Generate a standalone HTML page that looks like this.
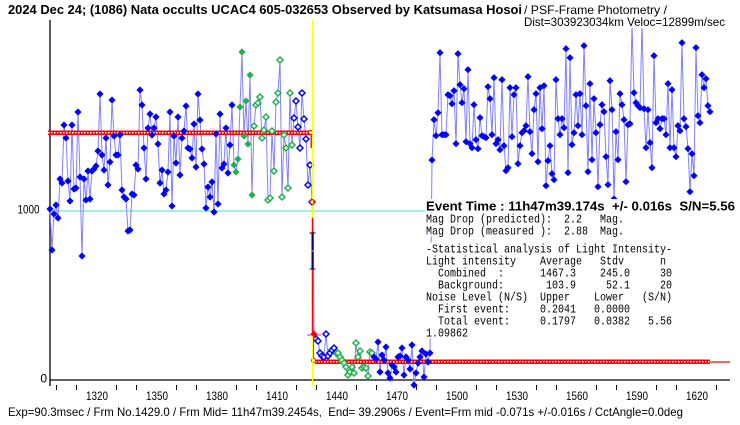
<!DOCTYPE html>
<html><head><meta charset="utf-8"><style>
html,body{margin:0;padding:0;background:#fff;}
svg{display:block;}
text{white-space:pre;}
</style></head><body>
<svg width="740" height="425" viewBox="0 0 740 425" xmlns="http://www.w3.org/2000/svg" xml:space="preserve">
<defs>
<marker id="bf" markerUnits="userSpaceOnUse" markerWidth="10" markerHeight="10" refX="5" refY="5" overflow="visible"><polygon points="5,1.4 8.6,5 5,8.6 1.4,5" fill="#0000ff"/></marker>
<marker id="gf" markerUnits="userSpaceOnUse" markerWidth="10" markerHeight="10" refX="5" refY="5" overflow="visible"><polygon points="5,1.4 8.6,5 5,8.6 1.4,5" fill="#22b04b"/></marker>
<marker id="gh" markerUnits="userSpaceOnUse" markerWidth="10" markerHeight="10" refX="5" refY="5" overflow="visible"><polygon points="5,2 8,5 5,8 2,5" fill="#fff" stroke="#22b04b" stroke-width="1.5"/></marker>
<marker id="bh" markerUnits="userSpaceOnUse" markerWidth="10" markerHeight="10" refX="5" refY="5" overflow="visible"><polygon points="5,2 8,5 5,8 2,5" fill="#fff" stroke="#0000ff" stroke-width="1.5"/></marker>
</defs>

<!-- grid line at 1000 -->
<line x1="50" y1="211" x2="730" y2="211" stroke="#40e0e0" stroke-width="1"/>

<!-- axes -->
<line x1="50" y1="20" x2="50" y2="386" stroke="#000" stroke-width="1.3"/>
<line x1="50" y1="380" x2="730" y2="380" stroke="#000" stroke-width="1.3"/>
<g stroke="#000" stroke-width="1">
<line x1="56.5" y1="385" x2="56.5" y2="390"/><line x1="76.5" y1="385" x2="76.5" y2="390"/>
<line x1="116.5" y1="385" x2="116.5" y2="390"/><line x1="136.5" y1="385" x2="136.5" y2="390"/>
<line x1="176.5" y1="385" x2="176.5" y2="390"/><line x1="196.5" y1="385" x2="196.5" y2="390"/>
<line x1="236.5" y1="385" x2="236.5" y2="390"/><line x1="256.5" y1="385" x2="256.5" y2="390"/>
<line x1="296.5" y1="385" x2="296.5" y2="390"/><line x1="316.5" y1="385" x2="316.5" y2="390"/>
<line x1="356.5" y1="385" x2="356.5" y2="390"/><line x1="376.5" y1="385" x2="376.5" y2="390"/>
<line x1="416.5" y1="385" x2="416.5" y2="390"/><line x1="436.5" y1="385" x2="436.5" y2="390"/>
<line x1="476.5" y1="385" x2="476.5" y2="390"/><line x1="496.5" y1="385" x2="496.5" y2="390"/>
<line x1="536.5" y1="385" x2="536.5" y2="390"/><line x1="556.5" y1="385" x2="556.5" y2="390"/>
<line x1="596.5" y1="385" x2="596.5" y2="390"/><line x1="616.5" y1="385" x2="616.5" y2="390"/>
<line x1="656.5" y1="385" x2="656.5" y2="390"/><line x1="676.5" y1="385" x2="676.5" y2="390"/>
<line x1="716.5" y1="385" x2="716.5" y2="390"/>
</g>
<g font-family="Liberation Sans, sans-serif" font-size="12" fill="#000" text-anchor="middle">
<text x="97" y="400" textLength="22" lengthAdjust="spacingAndGlyphs">1320</text>
<text x="157" y="400" textLength="22" lengthAdjust="spacingAndGlyphs">1350</text>
<text x="217" y="400" textLength="22" lengthAdjust="spacingAndGlyphs">1380</text>
<text x="277" y="400" textLength="22" lengthAdjust="spacingAndGlyphs">1410</text>
<text x="337" y="400" textLength="22" lengthAdjust="spacingAndGlyphs">1440</text>
<text x="397" y="400" textLength="22" lengthAdjust="spacingAndGlyphs">1470</text>
<text x="457" y="400" textLength="22" lengthAdjust="spacingAndGlyphs">1500</text>
<text x="517" y="400" textLength="22" lengthAdjust="spacingAndGlyphs">1530</text>
<text x="577" y="400" textLength="22" lengthAdjust="spacingAndGlyphs">1560</text>
<text x="637" y="400" textLength="22" lengthAdjust="spacingAndGlyphs">1590</text>
<text x="697" y="400" textLength="22" lengthAdjust="spacingAndGlyphs">1620</text>
</g>
<g font-family="Liberation Sans, sans-serif" font-size="12" fill="#000" text-anchor="end">
<text x="39.5" y="213.5" textLength="22" lengthAdjust="spacingAndGlyphs">1000</text>
<text x="47" y="382.5">0</text>
</g>

<!-- connecting line -->
<polyline fill="none" stroke="#8080ff" stroke-width="1" points="50,209 52,250 54,214 56,205 58,218 60,179 62,183 64,125 66,138 68,181 70,201 72,125 74,189 76,188 78,112 80,177 82,256 84,179 86,200 88,171 90,199 92,171 94,169 96,166 98,151 100,94 102,155 104,170 106,138 108,185 110,162 112,100 114,136 116,155 118,155 120,135 122,190 124,197 126,199 128,231 130,230 132,194 134,195 136,165 138,169 140,90 142,105 144,148 146,179 148,128 150,114 152,135 154,128 156,117 158,144 160,183 162,170 164,194 166,190 168,172 170,112 172,206 174,136 176,163 178,117 180,175 182,138 184,131 186,106 188,148 190,149 192,158 194,124 196,167 198,94 200,120 202,149 204,164 206,208 208,187 210,197 212,182 214,212 216,134 218,204 220,114 222,168 224,164 226,128 228,173 230,145 232,105 234,165 236,172 238,159 240,107 242,52 244,136 246,101 248,144 250,75 252,195 254,126 256,105 258,103 260,97 262,138 264,130 266,117 268,200 270,198 272,131 274,171 276,102 278,93 280,60 282,197 284,135 286,148 288,188 290,93 292,145 294,118 296,101 298,127 300,148 302,93 304,119 306,139 308,185 310,165 312,202 313.5,237 313.5,269 314,334 316,339 318,341 320,353 322,356 324,357 326,334 328,356 330,353 332,350 334,348 336,353 338,353 340,357 342,360 344,363 346,367 348,375 350,372 352,367 354,373 356,343 358,357 360,351 362,368 364,367 366,368 368,376 370,352 372,353 374,357 376,359 378,342 380,372 382,355 384,360 386,347 388,373 390,378 392,365 394,367 396,372 398,357 400,356 402,348 404,375 406,357 408,360 410,369 412,345 414,385 416,373 418,363 420,357 422,351 424,377 426,354 428,362 430,353 432,160 434,119.7 436,135.7 438,112.7 440,52.7 442,134.7 444,134.7 446,134.7 448,94.7 450,95.7 452,103.7 454,90.7 456,143.7 458,53.7 460,84.7 462,102.7 464,88.7 466,141.7 468,69.7 470,143.7 472,147.7 474,104.7 476,139.7 478,148.7 480,117.7 482,135.7 484,136.7 486,137.7 488,86.7 490,98.7 492,134.7 494,77.7 496,143.7 498,139.7 500,149.7 502,79.7 504,145.7 506,170.7 508,167.7 510,87.7 512,136.7 514,94.7 516,87.7 518,163.7 520,145.7 522,132.7 524,130.7 526,125.7 528,76.7 530,131.7 532,153.7 534,109.7 536,93.7 538,161.7 540,87.7 542,128.7 544,85.7 546,185.7 548,160.7 550,145.7 552,173.7 554,179.7 556,79.7 558,118.7 560,134.7 562,118.7 564,127.7 566,48.7 568,172.7 570,57.7 572,144.7 574,132.7 576,94.7 578,125.7 580,93.7 582,134.7 584,45.7 586,105.7 588,171.7 590,83.7 592,159.7 594,98.7 596,132.7 598,186.7 600,124.7 602,104.7 604,111.7 606,156.7 608,184.7 610,80.7 612,109.7 614,199 616,131.7 618,159.7 620,93.7 622,104.7 624,119.7 626,181.7 628,124.7 630,123.7 632,24 634,92.7 636,102.7 638,105.7 640,107.7 642,24 644,108.7 646,147.7 648,109.7 650,142.7 652,167.7 654,55.7 656,122.7 658,118.7 660,128.7 662,118.7 664,118.7 666,134.7 668,83.7 670,147.7 672,89.7 674,147.7 676,156.7 678,125.7 680,130.7 682,42.7 684,118.7 686,126.7 688,148.7 690,191.7 692,153.7 694,175.7 696,47.7 698,115.7 700,122.7 702,74.7 704,87.7 706,78.7 708,105.7 710,111.7"/>

<!-- red level bars -->
<rect x="48" y="130.5" width="264" height="4.5" fill="#ff0000"/>
<line x1="48" y1="132.75" x2="312" y2="132.75" stroke="#fff" stroke-width="1.4" stroke-dasharray="1.5 1.5"/>
<line x1="311.5" y1="130" x2="311.5" y2="148" stroke="#ff0000" stroke-width="2"/>
<rect x="315" y="359.5" width="395" height="4.5" fill="#ff0000"/>
<line x1="315" y1="361.75" x2="710" y2="361.75" stroke="#fff" stroke-width="1.4" stroke-dasharray="1.5 1.5"/>
<line x1="710" y1="362" x2="730" y2="362" stroke="#ff0000" stroke-width="1.2"/>
<line x1="313.5" y1="335" x2="313.5" y2="361" stroke="#ff0000" stroke-width="1"/>
<circle cx="310.5" cy="132.5" r="2" fill="#fff" stroke="#ff0000" stroke-width="1"/>
<circle cx="313.5" cy="360.5" r="2" fill="#fff" stroke="#ff0000" stroke-width="1"/>

<!-- markers -->
<polyline fill="none" stroke="none" marker-start="url(#bf)" marker-mid="url(#bf)" marker-end="url(#bf)" points="50,209 52,250 54,214 56,205 58,218 60,179 62,183 64,125 66,138 68,181 70,201 72,125 74,189 76,188 78,112 80,177 82,256 84,179 86,200 88,171 90,199 92,171 94,169 96,166 98,151 100,94 102,155 104,170 106,138 108,185 110,162 112,100 114,136 116,155 118,155 120,135 122,190 124,197 126,199 128,231 130,230 132,194 134,195 136,165 138,169 140,90 142,105 144,148 146,179 148,128 150,114 152,135 154,128 156,117 158,144 160,183 162,170 164,194 166,190 168,172 170,112 172,206 174,136 176,163 178,117 180,175 182,138 184,131 186,106 188,148 190,149 192,158 194,124 196,167 198,94 200,120 202,149 204,164 206,208 208,187 210,197 212,182 214,212 216,134 218,204 220,114 222,168 224,164 226,128 228,173 230,145 232,105"/>
<polyline fill="none" stroke="none" marker-start="url(#gf)" marker-mid="url(#gf)" marker-end="url(#gf)" points="234,165 236,172 238,159 240,107 242,52 244,136 246,101 248,144 250,75 252,195"/>
<polyline fill="none" stroke="none" marker-start="url(#gh)" marker-mid="url(#gh)" marker-end="url(#gh)" points="254,126 256,105 258,103 260,97 262,138 264,130 266,117 268,200 270,198 272,131 274,171 276,102 278,93 280,60 282,197 284,135 286,148 288,188 290,93 292,145 336,353 338,353 340,357 342,360 344,363 346,367 348,375 350,372 352,367 354,373 356,343 358,357 360,351 362,368 364,367 366,368 368,376 370,352 372,353"/>
<polyline fill="none" stroke="none" marker-start="url(#bh)" marker-mid="url(#bh)" marker-end="url(#bh)" points="294,118 296,101 298,127 300,148 302,93 304,119 306,139 308,185 310,165 312,202 316,339 318,341 320,353 322,356 324,357 326,334 328,356 330,353 332,350 334,348"/>
<polyline fill="none" stroke="none" marker-start="url(#bf)" marker-mid="url(#bf)" marker-end="url(#bf)" points="374,357 376,359 378,342 380,372 382,355 384,360 386,347 388,373 390,378 392,365 394,367 396,372 398,357 400,356 402,348 404,375 406,357 408,360 410,369 412,345 414,385 416,373 418,363 420,357 422,351 424,377 426,354 428,362 430,353 432,160 434,119.7 436,135.7 438,112.7 440,52.7 442,134.7 444,134.7 446,134.7 448,94.7 450,95.7 452,103.7 454,90.7 456,143.7 458,53.7 460,84.7 462,102.7 464,88.7 466,141.7 468,69.7 470,143.7 472,147.7 474,104.7 476,139.7 478,148.7 480,117.7 482,135.7 484,136.7 486,137.7 488,86.7 490,98.7 492,134.7 494,77.7 496,143.7 498,139.7 500,149.7 502,79.7 504,145.7 506,170.7 508,167.7 510,87.7 512,136.7 514,94.7 516,87.7 518,163.7 520,145.7 522,132.7 524,130.7 526,125.7 528,76.7 530,131.7 532,153.7 534,109.7 536,93.7 538,161.7 540,87.7 542,128.7 544,85.7 546,185.7 548,160.7 550,145.7 552,173.7 554,179.7 556,79.7 558,118.7 560,134.7 562,118.7 564,127.7 566,48.7 568,172.7 570,57.7 572,144.7 574,132.7 576,94.7 578,125.7 580,93.7 582,134.7 584,45.7 586,105.7 588,171.7 590,83.7 592,159.7 594,98.7 596,132.7 598,186.7 600,124.7 602,104.7 604,111.7 606,156.7 608,184.7 610,80.7 612,109.7 614,199 616,131.7 618,159.7 620,93.7 622,104.7 624,119.7 626,181.7 628,124.7 630,123.7 632,24 634,92.7 636,102.7 638,105.7 640,107.7 642,24 644,108.7 646,147.7 648,109.7 650,142.7 652,167.7 654,55.7 656,122.7 658,118.7 660,128.7 662,118.7 664,118.7 666,134.7 668,83.7 670,147.7 672,89.7 674,147.7 676,156.7 678,125.7 680,130.7 682,42.7 684,118.7 686,126.7 688,148.7 690,191.7 692,153.7 694,175.7 696,47.7 698,115.7 700,122.7 702,74.7 704,87.7 706,78.7 708,105.7 710,111.7"/>

<!-- event line and markers -->
<line x1="312.5" y1="20" x2="312.5" y2="386" stroke="#ffff00" stroke-width="1.3"/>
<line x1="312.5" y1="218" x2="312.5" y2="333" stroke="#ff0000" stroke-width="1.5"/>
<line x1="312.5" y1="233" x2="312.5" y2="269" stroke="#000080" stroke-width="2"/>
<line x1="309.5" y1="233" x2="315.5" y2="233" stroke="#000" stroke-width="1"/>
<line x1="310.5" y1="251" x2="314.5" y2="251" stroke="#e0e000" stroke-width="1"/>
<line x1="309.5" y1="269" x2="315.5" y2="269" stroke="#000080" stroke-width="1"/>
<circle cx="312" cy="202" r="2.6" fill="none" stroke="#ff0000" stroke-width="1"/>
<line x1="307" y1="335" x2="321" y2="335" stroke="#ff00ff" stroke-width="1"/>
<line x1="314" y1="330" x2="314" y2="339" stroke="#ff00ff" stroke-width="1"/>
<polygon points="314,330.5 317.5,334 314,337.5 310.5,334" fill="#ff0000"/>

<!-- title -->
<rect x="522" y="15.5" width="206" height="12.5" fill="#fff"/>
<text x="8" y="14" font-family="Liberation Sans, sans-serif" font-size="13" font-weight="bold" textLength="514" lengthAdjust="spacingAndGlyphs">2024 Dec 24; (1086) Nata occults UCAC4 605-032653 Observed by Katsumasa Hosoi</text>
<text x="524" y="14" font-family="Liberation Sans, sans-serif" font-size="12" textLength="143" lengthAdjust="spacingAndGlyphs">/ PSF-Frame Photometry /</text>
<text x="524" y="26" font-family="Liberation Sans, sans-serif" font-size="12" textLength="201" lengthAdjust="spacingAndGlyphs">Dist=303923034km Veloc=12899m/sec</text>

<!-- stats block -->
<g fill="#fff">
<rect x="425" y="199" width="312" height="13"/>
<rect x="426" y="212.5" width="198" height="12"/>
<rect x="426" y="224.3" width="198" height="12"/>
<rect x="426" y="242.5" width="246" height="12"/>
<rect x="426" y="254.3" width="240" height="12"/>
<rect x="426" y="266.3" width="246" height="12"/>
<rect x="426" y="278.3" width="246" height="12"/>
<rect x="426" y="290.3" width="246" height="12"/>
<rect x="426" y="302.3" width="204" height="12"/>
<rect x="426" y="314.3" width="246" height="12"/>
<rect x="426" y="326.5" width="42" height="12"/>
</g>
<text x="426" y="210.5" font-family="Liberation Sans, sans-serif" font-size="13" font-weight="bold" textLength="309" lengthAdjust="spacingAndGlyphs">Event Time : 11h47m39.174s  +/- 0.016s  S/N=5.56</text>
<g font-family="Liberation Mono, monospace" font-size="12" fill="#000">
<text x="426" y="222.5" textLength="198" lengthAdjust="spacingAndGlyphs">Mag Drop (predicted):  2.2   Mag.</text>
<text x="426" y="234.3" textLength="198" lengthAdjust="spacingAndGlyphs">Mag Drop (measured ):  2.88  Mag.</text>
<text x="426" y="252.5" textLength="246" lengthAdjust="spacingAndGlyphs">-Statistical analysis of Light Intensity-</text>
<text x="426" y="264.3" textLength="240" lengthAdjust="spacingAndGlyphs">Light intensity    Average   Stdv      n</text>
<text x="426" y="276.3" textLength="246" lengthAdjust="spacingAndGlyphs">  Combined  :      1467.3    245.0     30</text>
<text x="426" y="288.3" textLength="246" lengthAdjust="spacingAndGlyphs">  Background:       103.9     52.1     20</text>
<text x="426" y="300.3" textLength="246" lengthAdjust="spacingAndGlyphs">Noise Level (N/S)  Upper    Lower   (S/N)</text>
<text x="426" y="312.3" textLength="204" lengthAdjust="spacingAndGlyphs">  First event:     0.2041   0.0000</text>
<text x="426" y="324.3" textLength="246" lengthAdjust="spacingAndGlyphs">  Total event:     0.1797   0.0382   5.56</text>
<text x="426" y="336.5" textLength="42" lengthAdjust="spacingAndGlyphs">1.09862</text>
</g>

<!-- bottom text -->
<text x="8" y="416" font-family="Liberation Sans, sans-serif" font-size="12" textLength="675" lengthAdjust="spacingAndGlyphs">Exp=90.3msec / Frm No.1429.0 / Frm Mid= 11h47m39.2454s,  End= 39.2906s / Event=Frm mid -0.071s +/-0.016s / CctAngle=0.0deg</text>
</svg>
</body></html>
